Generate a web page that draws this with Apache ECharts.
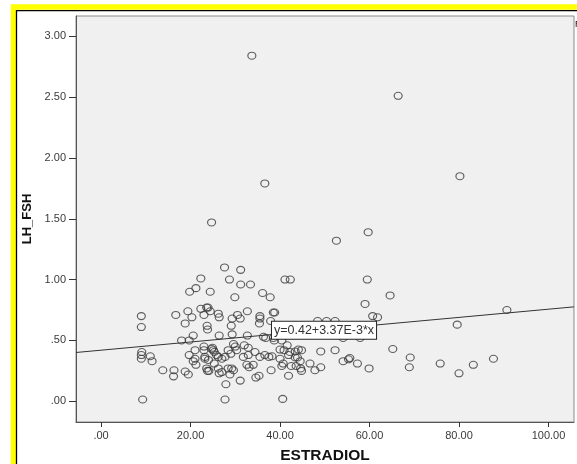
<!DOCTYPE html>
<html><head><meta charset="utf-8">
<script src="https://cdn.jsdelivr.net/npm/echarts@6/dist/echarts.min.js"></script>
<style>html,body{margin:0;padding:0;background:#fff}#c{width:577px;height:464px}</style>
</head><body><div id="c"></div>
<script>
// ESTRADIOL (x) and LH_FSH (y) values, paired by index
const estradiol = [33.7,66.4,80.2,36.6,24.7,59.7,52.6,27.6,31.2,22.3,28.7,31.2,33.4,41.1,42.3,21.2,19.8,24.4,36.1,29.9,37.8,59.5,64.6,59.0,60.7,61.8,79.6,90.7,
9.0,9.0,16.7,19.4,18.8,20.3,22.3,23.6,23.9,23.0,24.4,26.2,26.4,23.7,23.8,29.3,30.5,31.1,32.7,35.5,35.5,37.9,38.5,38.8,29.1,35.4,26.4,29.3,32.7,36.3,36.8,20.6,19.7,18.0,48.4,50.4,52.3,54.1,57.9,38.5,38.7,40.4,29.6,
9.1,9.0,9.0,11.0,11.4,13.8,16.3,16.2,18.8,19.5,19.7,21.0,21.0,20.6,21.2,23.0,23.0,23.2,23.8,24.1,24.7,25.1,25.3,24.9,28.4,30.3,32.0,32.9,32.9,31.8,34.4,35.5,37.5,36.6,40.0,40.7,23.2,24.0,26.2,27.0,27.7,23.6,26.2,27.0,26.4,28.4,29.2,29.6,28.8,32.6,33.1,34.6,35.3,31.1,27.9,27.7,38.0,40.6,9.3,
40.0,40.9,42.2,43.4,44.1,44.8,41.6,41.9,43.4,43.9,44.5,43.6,40.4,42.5,41.9,44.6,44.8,46.7,47.8,49.1,49.1,52.3,54.1,55.3,55.6,57.3,59.9,65.2,69.1,68.9,75.8,80.0,83.2,87.7,25.3,25.8,29.0,30.0,34.0,38.2];
const lhFsh = [2.84,2.51,1.85,1.79,1.47,1.39,1.32,1.10,1.08,1.01,1.00,0.96,0.96,1.00,1.00,0.93,0.90,0.90,0.89,0.855,0.855,1.00,0.87,0.80,0.70,0.69,0.63,0.75,
0.70,0.61,0.71,0.74,0.64,0.69,0.76,0.77,0.77,0.71,0.74,0.72,0.69,0.62,0.59,0.68,0.71,0.68,0.74,0.70,0.68,0.66,0.73,0.73,0.62,0.64,0.54,0.55,0.54,0.53,0.52,0.54,0.50,0.50,0.66,0.66,0.66,0.52,0.52,0.52,0.50,0.50,0.47,
0.405,0.38,0.35,0.37,0.33,0.255,0.255,0.205,0.245,0.22,0.38,0.42,0.35,0.33,0.30,0.45,0.42,0.35,0.25,0.25,0.43,0.42,0.405,0.44,0.42,0.42,0.46,0.44,0.38,0.365,0.405,0.365,0.365,0.38,0.35,0.31,0.365,0.34,0.365,0.35,0.365,0.27,0.27,0.24,0.23,0.27,0.27,0.255,0.22,0.30,0.28,0.195,0.21,0.17,0.14,0.015,0.255,0.02,0.015,
0.425,0.42,0.405,0.41,0.425,0.42,0.46,0.38,0.36,0.36,0.33,0.29,0.29,0.29,0.21,0.27,0.25,0.31,0.255,0.28,0.41,0.42,0.33,0.345,0.355,0.31,0.27,0.43,0.36,0.28,0.31,0.23,0.30,0.35,0.31,0.38,0.39,0.45,0.30,0.37];
const xTicks = [0,20,40,60,80,100];
const yTicks = [0,0.5,1,1.5,2,2.5,3];
const fitIntercept = 0.42, fitSlope = 0.00337;
const fitLabel = 'y=0.42+3.37E-3*x';
const xRange = [-5.6, 105.7], yRange = [-0.17, 3.166];

const points = estradiol.map((x,i)=>[x, lhFsh[i]]);
const fitLine = xRange.map(x=>[x, fitIntercept + fitSlope*x]);
const fmt = v => { let s = v.toFixed(2); return s.startsWith('0.') ? s.slice(1) : s; };

const chart = echarts.init(document.getElementById('c'));
const axisFont = {fontFamily:'Liberation Sans, Arial, sans-serif', fontSize:11, color:'#3a3a3a'};
chart.setOption({
  backgroundColor:'#fff',
  animation:false,
  grid:{left:76, top:16, right:3, bottom:42, show:true, outerBoundsMode:'none', containLabel:false,
    backgroundColor:'#f0f0f0', borderColor:'#8a8a8a', borderWidth:1},
  xAxis:{type:'value', min:xRange[0], max:xRange[1], name:'ESTRADIOL', nameLocation:'middle', nameGap:26,
    nameTextStyle:{fontFamily:'Liberation Sans, Arial, sans-serif', fontSize:15.5, fontWeight:'bold', color:'#111'},
    axisLine:{show:true, onZero:false, lineStyle:{color:'#555', width:1}},
    axisTick:{show:true, length:5, customValues:xTicks, lineStyle:{color:'#333'}},
    axisLabel:Object.assign({customValues:xTicks, formatter:fmt, margin:8}, axisFont),
    splitLine:{show:false}},
  yAxis:{type:'value', min:yRange[0], max:yRange[1], name:'LH_FSH', nameLocation:'middle', nameGap:42, nameRotate:90,
    nameTextStyle:{fontFamily:'Liberation Sans, Arial, sans-serif', fontSize:13, fontWeight:'bold', color:'#111'},
    axisLine:{show:true, onZero:false, lineStyle:{color:'#555', width:1}},
    axisTick:{show:true, length:7, customValues:yTicks, lineStyle:{color:'#333'}},
    axisLabel:Object.assign({customValues:yTicks, formatter:fmt, margin:10}, axisFont),
    splitLine:{show:false}},
  series:[
    {type:'scatter', data:points, symbol:'circle', symbolSize:[8,7], z:2,
      itemStyle:{color:'rgba(0,0,0,0)', borderColor:'#3a3a3a', borderWidth:1.1}},
    {type:'line', data:fitLine, symbol:'none', z:3, lineStyle:{color:'#333', width:1},
      markPoint:{symbol:'rect', symbolSize:0, silent:true,
        data:[{coord:[38.2, 0.584], label:{show:true, position:'right', distance:0, formatter:fitLabel,
          fontFamily:'Liberation Sans, Arial, sans-serif', fontSize:12.5, color:'#333', backgroundColor:'#fff',
          borderColor:'#222', borderWidth:1, padding:[2,2,1,2], lineHeight:14}}]}}
  ],
  graphic:[
    {type:'rect', shape:{x:13.5, y:7, width:700, height:600}, style:{fill:null, stroke:'#ffff00', lineWidth:5.5}, silent:true, z:100},
    {type:'rect', shape:{x:16.5, y:10.7, width:700, height:600}, style:{fill:null, stroke:'#000', lineWidth:1.3}, silent:true, z:100},
    {type:'text', x:575, y:20, style:{text:'R', font:'9px Liberation Sans, Arial, sans-serif', fill:'#000'}, silent:true, z:100}
  ]
});
</script></body></html>
